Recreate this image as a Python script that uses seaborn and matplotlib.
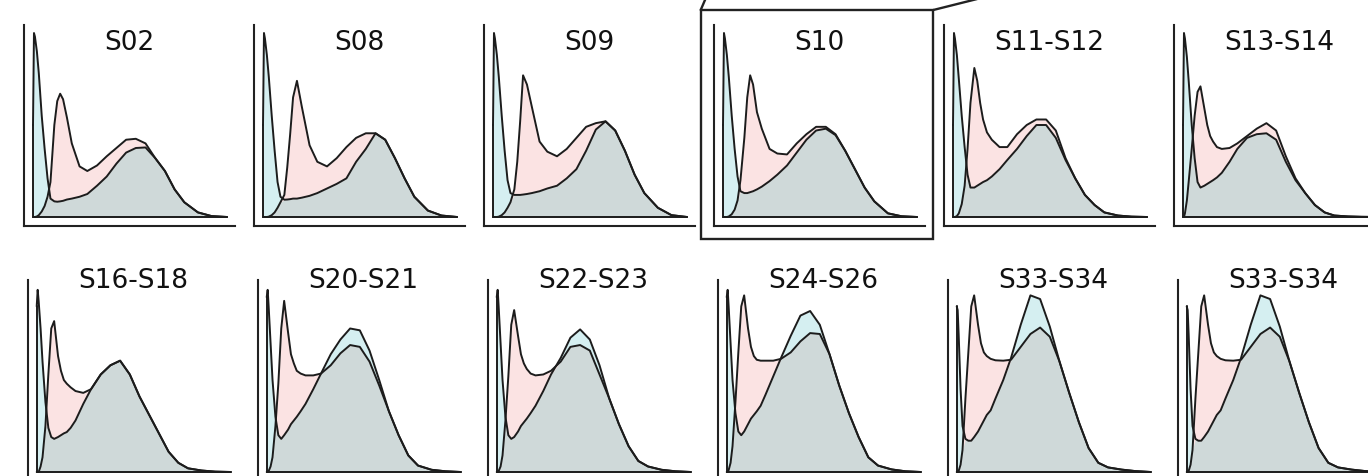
import matplotlib
matplotlib.use("Agg")
import numpy as np
import pandas as pd
import matplotlib.pyplot as plt
import seaborn as sns
from matplotlib.patches import Rectangle
from matplotlib.lines import Line2D

# eixo x comum (0 = inicio da curva, 1 = fim)
x_grid = [0, .005, .01, .02, .03, .045, .06, .075, .09, .11, .125, .14, .155, .175, .2,
          .24, .28, .33, .38, .43, .48, .53, .58, .63, .68, .73, .78, .85, .92, 1.0]

titles_top = ['S02', 'S08', 'S09', 'S10', 'S11-S12', 'S13-S14']
titles_bottom = ['S16-S18', 'S20-S21', 'S22-S23', 'S24-S26', 'S33-S34', 'S33-S34']

# curvas azuis (pico estreito no inicio)
cyan_s02 = [.5, 1.0, .98, .9, .78, .55, .37, .21, .10, .085, .083, .085, .088, .095, .10,
            .11, .125, .17, .22, .29, .35, .375, .378, .32, .25, .15, .08, .025, .005, 0]
cyan_s08 = [.5, 1.0, .97, .88, .76, .55, .36, .19, .11, .094, .095, .097, .10, .10, .105,
            .115, .13, .155, .18, .21, .30, .37, .455, .42, .32, .21, .11, .035, .008, 0]
cyan_s09 = [.5, 1.0, .97, .88, .76, .55, .36, .2, .13, .12, .12, .12, .122, .125, .13,
            .14, .155, .17, .21, .26, .36, .475, .52, .47, .36, .23, .13, .05, .01, 0]
cyan_s10 = [.5, 1.0, .97, .88, .76, .55, .37, .22, .14, .13, .13, .135, .14, .15, .165,
            .195, .23, .28, .35, .42, .47, .48, .445, .36, .26, .16, .085, .02, .004, 0]
cyan_s11 = [.5, 1.0, .97, .88, .75, .55, .38, .23, .16, .16, .17, .18, .19, .20, .22,
            .26, .31, .37, .44, .50, .50, .43, .31, .21, .12, .065, .025, .008, .002, 0]
cyan_s13 = [.5, 1.0, .97, .87, .73, .5, .32, .19, .16, .17, .18, .19, .20, .215, .24,
            .30, .37, .43, .45, .455, .42, .30, .20, .13, .065, .025, .008, .003, .001, 0]
cyan_s16 = [.9, .99, .93, .78, .6, .38, .24, .19, .18, .19, .20, .21, .217, .24, .28,
            .37, .45, .53, .58, .605, .53, .41, .31, .21, .11, .05, .02, .008, .002, 0]
cyan_s20 = [.95, .99, .9, .7, .5, .3, .2, .18, .2, .23, .26, .28, .30, .33, .37,
            .45, .535, .64, .72, .78, .77, .66, .50, .33, .20, .09, .035, .012, .004, 0]
cyan_s22 = [.95, .99, .9, .7, .5, .3, .2, .18, .19, .22, .25, .27, .29, .32, .36,
            .44, .53, .62, .73, .775, .72, .58, .40, .26, .14, .06, .03, .012, .004, 0]
cyan_s24 = [.95, .99, .9, .7, .5, .32, .22, .20, .22, .26, .29, .31, .33, .36, .42,
            .52, .62, .74, .85, .875, .80, .64, .47, .32, .19, .08, .035, .014, .004, 0]
cyan_s33 = [.9, .88, .75, .45, .25, .18, .17, .17, .19, .22, .25, .28, .31, .335, .40,
            .50, .62, .80, .96, .94, .79, .60, .43, .27, .13, .05, .025, .013, .005, 0]

# curvas rosas
pink_s02 = [0, 0, 0, .003, .01, .03, .06, .11, .19, .50, .63, .67, .64, .54, .40,
            .275, .25, .28, .33, .375, .42, .425, .40, .32, .25, .15, .08, .025, .005, 0]
pink_s08 = [0, 0, 0, 0, .002, .01, .025, .05, .08, .12, .27, .45, .65, .74, .60,
            .39, .30, .275, .32, .38, .43, .455, .455, .42, .32, .21, .11, .035, .008, 0]
pink_s09 = [0, 0, 0, 0, .002, .01, .025, .05, .08, .15, .30, .52, .77, .72, .60,
            .41, .355, .33, .37, .43, .49, .51, .52, .47, .36, .23, .13, .05, .01, 0]
pink_s10 = [0, 0, 0, 0, .003, .015, .04, .09, .20, .43, .65, .77, .72, .57, .48,
            .37, .345, .34, .40, .45, .49, .49, .45, .36, .26, .16, .085, .02, .004, 0]
pink_s11 = [0, 0, 0, .005, .02, .07, .17, .37, .62, .81, .74, .62, .53, .46, .42,
            .38, .38, .45, .50, .53, .53, .47, .32, .21, .12, .065, .025, .008, .002, 0]
pink_s13 = [0, 0, .02, .09, .2, .37, .55, .68, .71, .59, .50, .44, .41, .38, .37,
            .375, .40, .44, .48, .51, .47, .33, .21, .13, .065, .025, .008, .003, .001, 0]
pink_s16 = [0, 0, 0, .03, .08, .25, .53, .78, .82, .63, .55, .50, .48, .46, .44,
            .43, .45, .53, .58, .605, .53, .41, .31, .21, .11, .05, .02, .008, .002, 0]
pink_s20 = [0, 0, .005, .03, .08, .25, .48, .78, .93, .76, .64, .59, .55, .535, .525,
            .525, .535, .58, .645, .69, .68, .60, .47, .33, .20, .09, .035, .012, .004, 0]
pink_s22 = [0, 0, .005, .03, .09, .28, .52, .80, .88, .74, .64, .59, .56, .535, .525,
            .53, .55, .60, .68, .69, .66, .53, .40, .26, .14, .06, .03, .012, .004, 0]
pink_s24 = [0, 0, .01, .05, .14, .38, .65, .90, .96, .78, .68, .63, .61, .605, .605,
            .605, .615, .65, .71, .755, .75, .64, .47, .32, .19, .08, .035, .014, .004, 0]
pink_s33 = [0, 0, .005, .04, .12, .40, .65, .90, .96, .80, .70, .65, .63, .615, .607,
            .605, .61, .68, .75, .785, .735, .60, .43, .27, .13, .05, .025, .013, .005, 0]

cyan_top = [cyan_s02, cyan_s08, cyan_s09, cyan_s10, cyan_s11, cyan_s13]
pink_top = [pink_s02, pink_s08, pink_s09, pink_s10, pink_s11, pink_s13]
cyan_bottom = [cyan_s16, cyan_s20, cyan_s22, cyan_s24, cyan_s33, cyan_s33]
pink_bottom = [pink_s16, pink_s20, pink_s22, pink_s24, pink_s33, pink_s33]

sns.set_style('white')
plt.rcParams['font.family'] = ['DejaVu Sans']

W, H = 1368, 476
fig = plt.figure(figsize=(W / 100, H / 100), dpi=100)

c_cyan = '#d5eff1'
c_pink = '#fbe3e3'
c_gray = '#cfd9d9'
c_line = '#1c1c1c'


def painel(left, top, title, ty, cyan, pink):
    ax = fig.add_axes([left / W, 1 - (top + 201) / H, 211 / W, 201 / H])
    df = pd.DataFrame({'x': x_grid, 'cyan': cyan, 'pink': pink})
    ax.fill_between(df['x'], 0, df['cyan'], color=c_cyan, lw=0, zorder=1)
    ax.fill_between(df['x'], 0, df['pink'], color=c_pink, lw=0, zorder=2)
    ax.fill_between(df['x'], 0, np.minimum(df['cyan'], df['pink']), color=c_gray, lw=0, zorder=3)
    sns.lineplot(data=df, x='x', y='pink', ax=ax, color=c_line, lw=1.4, estimator=None, zorder=4)
    sns.lineplot(data=df, x='x', y='cyan', ax=ax, color=c_line, lw=1.4, estimator=None, zorder=4)
    # linha de base e borda esquerda do pico
    ax.plot([df['x'].iloc[0], df['x'].iloc[-1]], [0, 0], color=c_line, lw=1.4, zorder=4)
    ax.plot([df['x'].iloc[0]] * 2, [0, df['cyan'].iloc[0]], color=c_line, lw=1.4, zorder=4)
    ax.set_xlim(-9 / 194, 202 / 194)
    ax.set_ylim(-9 / 184, 192 / 184)
    ax.set_xticks([])
    ax.set_yticks([])
    ax.set_xlabel('')
    ax.set_ylabel('')
    sns.despine(ax=ax)
    for s in ['left', 'bottom']:
        ax.spines[s].set_linewidth(1.5)
        ax.spines[s].set_color('#222222')
    ax.text(0.5, ty, title, transform=ax.transAxes, ha='center', va='baseline',
            fontsize=19, color='#111111', zorder=10)
    return ax


for i in range(6):
    painel(24 + 230 * i, 25, titles_top[i], 0.8756, cyan_top[i], pink_top[i])
    painel(27.7 + 230 * i, 280, titles_bottom[i], 0.959, cyan_bottom[i], pink_bottom[i])

# caixa de destaque em volta do S10
fig.add_artist(Rectangle((700.7 / W, 1 - 239.3 / H), 232.6 / W, 229.3 / H,
                         transform=fig.transFigure, fill=False, lw=1.7, ec='#222222'))
fig.add_artist(Line2D([700.7 / W, 709.3 / W], [1 - 10 / H, 1 + 10 / H],
                      transform=fig.transFigure, lw=1.7, color='#222222', clip_on=False))
fig.add_artist(Line2D([933.3 / W, 1013 / W], [1 - 10 / H, 1 + 10 / H],
                      transform=fig.transFigure, lw=1.7, color='#222222', clip_on=False))

fig.savefig('out.png', dpi=100)
